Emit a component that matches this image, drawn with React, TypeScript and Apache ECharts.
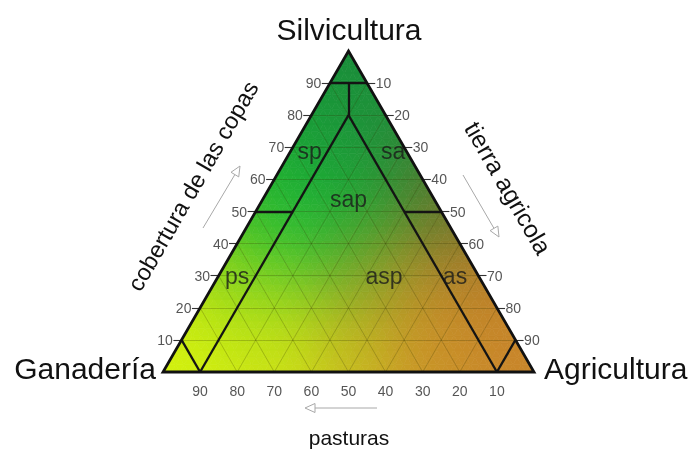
import React, { useEffect, useRef } from "react";
import * as echarts from "echarts";

// ---- data ----
const H = (Math.sqrt(3) / 2) * 100;
const silviculturaTicks = [10, 20, 30, 40, 50, 60, 70, 80, 90]; // left side (cobertura de las copas)
const agriculturaTicks = [10, 20, 30, 40, 50, 60, 70, 80, 90]; // right side (tierra agricola)
const pasturasTicks = [90, 80, 70, 60, 50, 40, 30, 20, 10]; // bottom side (pasturas)
const gridLevels = [10, 20, 30, 40, 50, 60, 70, 80, 90];

// region boundaries as ternary points [silvicultura, agricultura] (pasturas = 100 - s - a)
const regionSegments: number[][][] = [
  [[90, 0], [90, 10]],
  [[90, 5], [80, 10]],
  [[80, 10], [0, 10]],
  [[80, 10], [0, 90]],
  [[50, 0], [50, 10]],
  [[50, 40], [50, 50]],
  [[10, 0], [0, 10]],
  [[10, 90], [0, 90]],
];

const regionNames = ["sp", "sa", "sap", "ps", "asp", "as"];
const regionS = [69, 69, 54, 30, 30, 30];
const regionA = [5, 27.5, 23, 5, 44.6, 63.7];

// colour samples: silvicultura, agricultura, rgb
const colorS = [100, 80, 75, 75, 60, 60, 60, 45, 45, 45, 45, 30, 30, 30, 30, 30, 15, 15, 15, 15, 15, 0, 0, 0, 0, 0];
const colorA = [0, 10, 2, 23, 0, 20, 40, 0, 14, 30, 55, 0, 18, 35, 48, 70, 0, 25, 45, 65, 85, 0, 30, 50, 70, 100];
const colorRGB = [
  [26, 138, 58], [24, 150, 58], [26, 158, 56], [38, 134, 58],
  [32, 174, 48], [20, 168, 56], [76, 122, 48],
  [72, 192, 36], [16, 192, 62], [58, 162, 46], [114, 120, 44],
  [156, 216, 24], [126, 208, 34], [110, 170, 42], [170, 140, 40], [182, 124, 40],
  [202, 236, 16], [190, 226, 20], [196, 182, 32], [202, 144, 40], [200, 134, 42],
  [214, 242, 14], [206, 230, 20], [200, 190, 30], [202, 146, 40], [201, 134, 42],
];

function toXY(s: number, a: number) {
  return [a + s / 2, (s * H) / 100];
}

const ctrlXY = colorS.map((s, i) => toXY(s, colorA[i]));
const SIG = 10;
function colorAt(s: number, a: number) {
  const [px, py] = toXY(s, a);
  let wsum = 0;
  const acc = [0, 0, 0];
  for (let i = 0; i < ctrlXY.length; i++) {
    const d2 = (px - ctrlXY[i][0]) ** 2 + (py - ctrlXY[i][1]) ** 2;
    const w = Math.exp(-d2 / (2 * SIG * SIG)) + 1e-12;
    wsum += w;
    for (let k = 0; k < 3; k++) acc[k] += w * colorRGB[i][k];
  }
  const c = acc.map((v) => Math.round(v / wsum));
  return `rgb(${c[0]},${c[1]},${c[2]})`;
}

const FONT = "'Liberation Sans', Arial, Helvetica, sans-serif";

function arrow(x1: number, y1: number, x2: number, y2: number) {
  const dx = x2 - x1, dy = y2 - y1;
  const len = Math.hypot(dx, dy);
  const ux = dx / len, uy = dy / len;
  const nx = -uy, ny = ux;
  const hl = 10, hw = 4.5;
  const bx = x2 - ux * hl, by = y2 - uy * hl;
  return [
    { type: "line", shape: { x1, y1, x2: bx, y2: by }, style: { stroke: "#a8a8a8", lineWidth: 1 } },
    {
      type: "polygon",
      shape: { points: [[x2, y2], [bx + nx * hw, by + ny * hw], [bx - nx * hw, by - ny * hw]] },
      style: { fill: "#ffffff", stroke: "#a8a8a8", lineWidth: 1 },
    },
  ];
}

export default function App() {
  const ref = useRef<HTMLDivElement>(null);
  useEffect(() => {
    const chart = echarts.init(ref.current!, null, { renderer: "svg" });

    const gridLines: any[] = [];
    gridLevels.forEach((k) => {
      gridLines.push({ coords: [toXY(k, 0), toXY(k, 100 - k)] });
      gridLines.push({ coords: [toXY(0, k), toXY(100 - k, k)] });
      gridLines.push({ coords: [toXY(0, 100 - k), toXY(100 - k, 0)] });
    });

    const regionLines = regionSegments.map((seg) => ({ coords: seg.map((p) => toXY(p[0], p[1])) }));

    const tickLen = 2.2;
    const ticks: any[] = [];
    const leftLabels: any[] = [];
    silviculturaTicks.forEach((s) => {
      const [x, y] = toXY(s, 0);
      ticks.push({ coords: [[x, y], [x - tickLen, y]] });
      leftLabels.push([x - tickLen, y, String(s)]);
    });
    const rightLabels: any[] = [];
    agriculturaTicks.forEach((a) => {
      const [x, y] = toXY(100 - a, a);
      ticks.push({ coords: [[x, y], [x + tickLen, y]] });
      rightLabels.push([x + tickLen, y, String(a)]);
    });
    const bottomLabels = pasturasTicks.map((p) => {
      const [x, y] = toXY(0, 100 - p);
      return [x, y, String(p)];
    });

    const regionData = regionNames.map((n, i) => {
      const [x, y] = toXY(regionS[i], regionA[i]);
      return [x, y, n];
    });

    const N = 44;
    const step = 100 / N;

    const labelScatter = (data: any[], position: string, distance: number, size: number, color: string) => ({
      type: "scatter",
      z: 5,
      silent: true,
      clip: false,
      symbolSize: 1,
      itemStyle: { color: "rgba(0,0,0,0)" },
      data,
      label: { show: true, position, distance, formatter: (p: any) => p.value[2], color, fontSize: size, fontFamily: FONT },
    });

    const option: any = {
      animation: false,
      grid: { left: 163, top: 51, width: 371, height: 321, containLabel: false },
      xAxis: { type: "value", min: 0, max: 100, show: false },
      yAxis: { type: "value", min: 0, max: H, show: false },
      series: [
        {
          type: "custom",
          z: 1,
          silent: true,
          clip: false,
          data: [[0, 0]],
          renderItem: (_params: any, api: any) => {
            const children: any[] = [];
            const pushTri = (t: number[][]) => {
              const pts = t.map((p) => api.coord(toXY(p[0] * step, p[1] * step)));
              const cs = ((t[0][0] + t[1][0] + t[2][0]) / 3) * step;
              const ca = ((t[0][1] + t[1][1] + t[2][1]) / 3) * step;
              const c = colorAt(cs, ca);
              children.push({ type: "polygon", shape: { points: pts }, style: { fill: c, stroke: c, lineWidth: 0.7 } });
            };
            for (let i = 0; i < N; i++) {
              for (let j = 0; j < N - i; j++) {
                pushTri([[i, j], [i, j + 1], [i + 1, j]]);
                if (j < N - i - 1) pushTri([[i, j + 1], [i + 1, j + 1], [i + 1, j]]);
              }
            }
            return { type: "group", children };
          },
        },
        {
          type: "lines",
          coordinateSystem: "cartesian2d",
          z: 2,
          silent: true,
          clip: false,
          lineStyle: { color: "rgba(50,50,0,0.3)", width: 0.8, opacity: 1 },
          data: gridLines,
        },
        {
          type: "lines",
          coordinateSystem: "cartesian2d",
          z: 3,
          silent: true,
          clip: false,
          lineStyle: { color: "#141414", width: 2.3, opacity: 1 },
          data: regionLines,
        },
        {
          type: "lines",
          coordinateSystem: "cartesian2d",
          z: 3,
          silent: true,
          clip: false,
          lineStyle: { color: "#333", width: 1.1, opacity: 1 },
          data: ticks,
        },
        {
          type: "lines",
          coordinateSystem: "cartesian2d",
          polyline: true,
          z: 4,
          silent: true,
          clip: false,
          lineStyle: { color: "#111", width: 2.8, opacity: 1, join: "miter" },
          data: [{ coords: [toXY(0, 0), toXY(0, 100), toXY(100, 0), toXY(0, 0), toXY(0, 100)] }],
        },
        labelScatter(leftLabels, "left", 0, 14, "#2a2a2a"),
        labelScatter(rightLabels, "right", 0, 14, "#2a2a2a"),
        labelScatter(bottomLabels, "bottom", 11, 14, "#2a2a2a"),
        labelScatter(regionData, "inside", 0, 23, "#1a1a1a"),
      ],
      graphic: [
        { type: "text", x: 349, y: 29, style: { text: "Silvicultura", fontSize: 30, fontFamily: FONT, fill: "#111", align: "center", verticalAlign: "middle", textAlign: "center", textVerticalAlign: "middle" } },
        { type: "text", x: 156, y: 368, style: { text: "Ganadería", fontSize: 30, fontFamily: FONT, fill: "#111", align: "right", verticalAlign: "middle", textAlign: "right", textVerticalAlign: "middle" } },
        { type: "text", x: 544, y: 368, style: { text: "Agricultura", fontSize: 30, fontFamily: FONT, fill: "#111", align: "left", verticalAlign: "middle", textAlign: "left", textVerticalAlign: "middle" } },
        { type: "text", x: 349, y: 437, style: { text: "pasturas", fontSize: 21, fontFamily: FONT, fill: "#111", align: "center", verticalAlign: "middle", textAlign: "center", textVerticalAlign: "middle" } },
        { type: "text", x: 193, y: 186, rotation: Math.PI / 3, style: { text: "cobertura de las copas", fontSize: 23.5, fontFamily: FONT, fill: "#111", align: "center", verticalAlign: "middle", textAlign: "center", textVerticalAlign: "middle" } },
        { type: "text", x: 508, y: 188, rotation: -Math.PI / 3, style: { text: "tierra agricola", fontSize: 24.5, fontFamily: FONT, fill: "#111", align: "center", verticalAlign: "middle", textAlign: "center", textVerticalAlign: "middle" } },
        ...arrow(203, 228, 240, 166),
        ...arrow(463, 175, 499, 237),
        ...arrow(377, 408, 305, 408),
      ],
    };
    chart.setOption(option);
    return () => chart.dispose();
  }, []);
  return <div ref={ref} style={{ position: "fixed", left: 0, top: 0, width: 696, height: 451 }} />;
}
